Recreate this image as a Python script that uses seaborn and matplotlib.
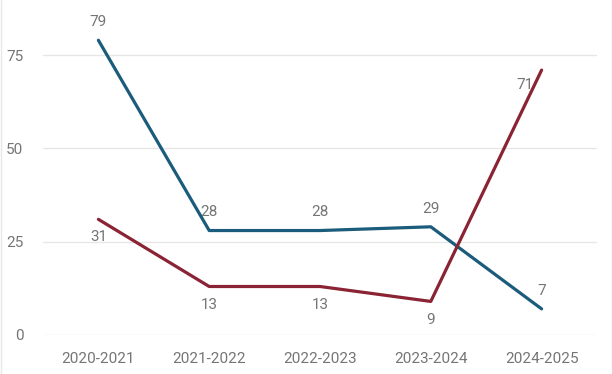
import matplotlib
matplotlib.use("Agg")
import matplotlib.pyplot as plt
from matplotlib.lines import Line2D
import numpy as np
import pandas as pd
import seaborn as sns

SEASONS = ["2020-2021", "2021-2022", "2022-2023", "2023-2024", "2024-2025"]
BLUE_VALUES = [79, 28, 28, 29, 7]
RED_VALUES = [31, 13, 13, 9, 71]

BLUE = "#1b5b7b"
RED = "#8a2333"
TEXT = "#757575"
GRID = "#e6e6e6"

sns.set_theme(style="white")
plt.rcParams["font.family"] = ["Roboto", "DejaVu Sans"]

df = pd.DataFrame({
    "season": SEASONS * 2,
    "value": BLUE_VALUES + RED_VALUES,
    "series": ["blue"] * len(SEASONS) + ["red"] * len(SEASONS),
})
df["x"] = np.tile(np.arange(len(SEASONS)), 2)

fig = plt.figure(figsize=(6.12, 3.74), dpi=100)
ax = fig.add_axes([43 / 612, 1 - 335 / 374, (597 - 43) / 612, 335 / 374 * 0.999])

sns.lineplot(data=df, x="x", y="value", hue="series",
             palette={"blue": BLUE, "red": RED}, linewidth=2.3,
             legend=False, ax=ax, zorder=3)

ax.set_xlim(-0.5, len(SEASONS) - 0.5)
ax.set_ylim(0, 89.7)
ax.set_yticks([0, 25, 50, 75])
ax.set_xticks(range(len(SEASONS)))
ax.set_xticklabels(SEASONS)
ax.yaxis.grid(True, color=GRID, linewidth=1)
ax.set_axisbelow(True)
for s in ax.spines.values():
    s.set_visible(False)
ax.tick_params(axis="both", length=0, labelsize=11, labelcolor=TEXT)
ax.tick_params(axis="y", pad=14)
ax.tick_params(axis="x", pad=12)
ax.set_xlabel("")
ax.set_ylabel("")

for i, v in enumerate(BLUE_VALUES):
    ax.annotate(str(v), (i, v), xytext=(0, 8), textcoords="offset points",
                ha="center", va="bottom", fontsize=11, color=TEXT)
for i, v in enumerate(RED_VALUES):
    if i == len(RED_VALUES) - 1:
        ax.annotate(str(v), (i, v), xytext=(-12, -11), textcoords="offset points",
                    ha="center", va="center", fontsize=11, color=TEXT)
    else:
        ax.annotate(str(v), (i, v), xytext=(0, -8), textcoords="offset points",
                    ha="center", va="top", fontsize=11, color=TEXT)

# faint frame at the left and right edges
for xe in (0.5 / 612, 611.5 / 612):
    fig.add_artist(Line2D([xe, xe], [0, 1], transform=fig.transFigure,
                          color="#e8e8e8", linewidth=1))

fig.savefig("out.png", dpi=100)
plt.close(fig)
